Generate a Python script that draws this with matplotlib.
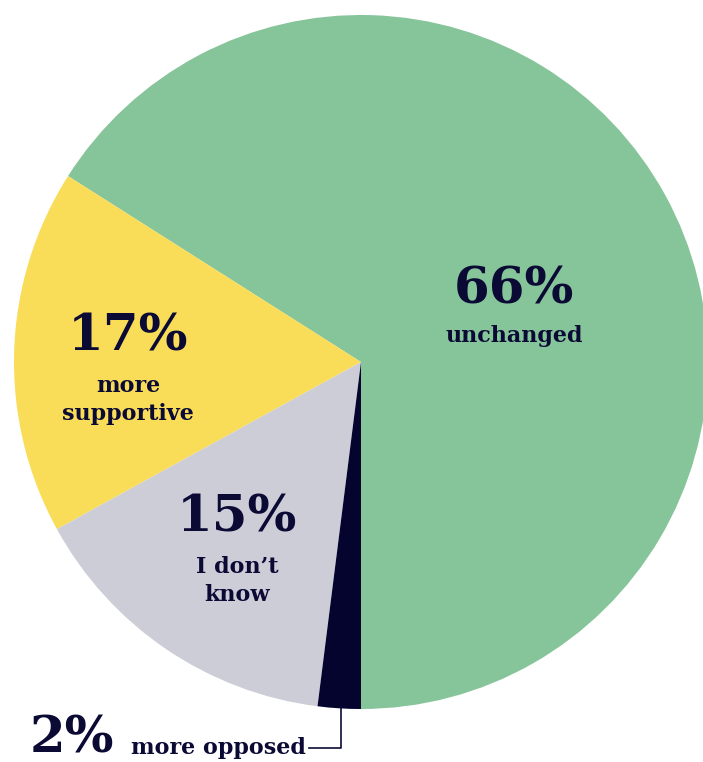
import matplotlib.pyplot as plt

# Share of respondents by change in attitude
labels = ['unchanged', 'more\nsupportive', 'I don\u2019t\nknow', 'more opposed']
shares = [66, 17, 15, 2]
colors = ['#86c49a', '#f9dd58', '#cdcdd8', '#04042f']

navy = '#0b0a35'
W, H = 703, 762

fig = plt.figure(figsize=(W / 100, H / 100), dpi=100)
ax = fig.add_axes([0, 0, 1, 1])

# pixel-style coords: y counted from the top
def py(y):
    return H - y

ax.pie(shares, colors=colors, startangle=-90, counterclock=True,
       center=(361, py(362)), radius=347, frame=True,
       wedgeprops=dict(linewidth=0))
ax.set_xlim(0, W)
ax.set_ylim(0, H)
ax.set_aspect('equal')
ax.axis('off')

big = dict(family='DejaVu Serif', fontweight='bold', color=navy, fontsize=37,
           ha='center', va='center')
small = dict(family='DejaVu Serif', fontweight='bold', color=navy, fontsize=16,
             ha='center', va='center', linespacing=1.3)

# value + label inside the three large slices
spots = [(514, 290, 336), (128, 337, 400), (237, 518, 581)]
for (x, yv, yl), s, lab in zip(spots, shares[:3], labels[:3]):
    ax.text(x, py(yv), f'{s}%', **big)
    ax.text(x, py(yl), lab, **small)

# small slice gets an outside label with a leader line
ax.text(72, py(739), f'{shares[3]}%', **big)
ax.text(131, py(748), labels[3], **dict(small, ha='left'))
ax.plot([309, 341, 341], [py(748), py(748), py(708)], color=navy, lw=1.2)

fig.savefig('out.png', dpi=100)
